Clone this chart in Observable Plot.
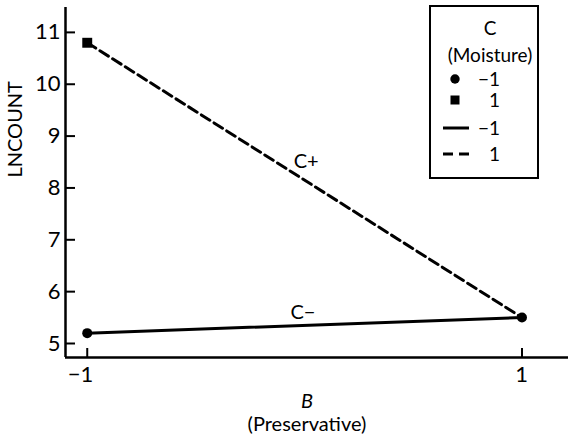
<!DOCTYPE html>
<html><head><meta charset="utf-8">
<script src="https://cdn.jsdelivr.net/npm/d3@7"></script>
<script src="https://cdn.jsdelivr.net/npm/@observablehq/plot@0.6"></script>
<style>
body{margin:0;background:#fff;}
#wrap{position:relative;width:570px;height:442px;font-family:Lato,sans-serif;color:#000;}
#legend{position:absolute;left:429px;top:5px;}
</style></head><body><div id="wrap"></div>
<script>
// Data
const B = [-1, 1];                 // Preservative levels
const cMinus = [5.2, 5.5];         // LNCOUNT at C = -1
const cPlus = [10.8, 5.5];         // LNCOUNT at C = +1
const xTicks = [-1, 1];
const yTicks = [5, 6, 7, 8, 9, 10, 11];
const seriesLabels = [
  {text: "C+", B: -0.05, v: 8.51},
  {text: "C\u2212", B: -0.065, v: 5.6}
];
const legendTitle = ["C", "(Moisture)"];
const legendItems = [
  {kind: "circle", label: "\u22121"},
  {kind: "square", label: "1"},
  {kind: "solid", label: "\u22121"},
  {kind: "dashed", label: "1"}
];

const minusRows = B.map((b, i) => ({B: b, v: cMinus[i], C: -1}));
const plusRows = B.map((b, i) => ({B: b, v: cPlus[i], C: 1}));
// square marker hidden where it coincides with the circle marker
const plusMarkers = plusRows.filter((d, i) => d.v !== cMinus[i]);

const xDomain = [-1.1, 1.214];
const yDomain = [4.73, 11.48];
const fmt = d => d < 0 ? "\u2212" + Math.abs(d) : String(d);

const chart = Plot.plot({
  width: 570, height: 442,
  marginLeft: 65, marginRight: 2, marginTop: 7, marginBottom: 85,
  style: {fontFamily: "Lato, sans-serif", fontSize: "20px", color: "#000", background: "#fff", overflow: "visible"},
  x: {domain: xDomain},
  y: {domain: yDomain},
  marks: [
    Plot.ruleX([xDomain[0]], {strokeWidth: 2.5}),
    Plot.ruleY([yDomain[0]], {strokeWidth: 2.5}),
    Plot.axisY(yTicks, {anchor: "left", tickSize: -10, tickPadding: 15, strokeWidth: 2, label: null, tickFormat: fmt, fontSize: 22}),
    Plot.axisX(xTicks, {anchor: "bottom", tickSize: -9, strokeWidth: 2, label: null, tickFormat: () => ""}),
    Plot.axisX(xTicks, {anchor: "bottom", tickSize: 0, tickPadding: 9, label: null, tickFormat: fmt, fontSize: 22, textAnchor: "end", dx: 6}),
    Plot.line(plusRows, {x: "B", y: "v", strokeWidth: 3, strokeDasharray: "10,5"}),
    Plot.line(minusRows, {x: "B", y: "v", strokeWidth: 3}),
    Plot.dot(plusMarkers, {x: "B", y: "v", symbol: "square", r: 5.6, fill: "#000"}),
    Plot.dot(minusRows, {x: "B", y: "v", r: 5, fill: "#000"}),
    Plot.text(seriesLabels, {x: "B", y: "v", text: "text", textAnchor: "start", fontSize: 20}),
    Plot.text(["B"], {frameAnchor: "bottom", text: d => d, dx: -10, dy: 50, fontStyle: "italic", fontSize: 20}),
    Plot.text(["(Preservative)"], {frameAnchor: "bottom", text: d => d, dx: -10, dy: 73, fontSize: 20}),
    Plot.text(["LNCOUNT"], {frameAnchor: "left", text: d => d, rotate: -90, dx: -50, dy: -5, fontSize: 20})
  ]
});
const wrap = document.getElementById("wrap");
wrap.appendChild(chart);

// Legend (drawn as SVG with real text)
const lw = 110, lh = 174;
const lg = d3.select(wrap).append("svg").attr("id", "legend").attr("width", lw).attr("height", lh)
  .style("font-family", "Lato, sans-serif").style("font-size", "19px");
lg.append("rect").attr("x", 1).attr("y", 1).attr("width", lw - 2).attr("height", lh - 2)
  .attr("fill", "#fff").attr("stroke", "#000").attr("stroke-width", 2);
const titleY = [23, 50];
legendTitle.forEach((t, i) => {
  lg.append("text").attr("x", 61).attr("y", titleY[i]).attr("dy", "0.35em")
    .attr("text-anchor", "middle").text(t);
});
const rowY = [74, 95, 123, 149];
legendItems.forEach((it, i) => {
  const y = rowY[i];
  if (it.kind === "circle") lg.append("circle").attr("cx", 26).attr("cy", y).attr("r", 4.7).attr("fill", "#000");
  if (it.kind === "square") lg.append("rect").attr("x", 21.5).attr("y", y - 4.5).attr("width", 9).attr("height", 9).attr("fill", "#000");
  if (it.kind === "solid") lg.append("line").attr("x1", 14).attr("x2", 40).attr("y1", y).attr("y2", y).attr("stroke", "#000").attr("stroke-width", 3);
  if (it.kind === "dashed") lg.append("line").attr("x1", 14).attr("x2", 40).attr("y1", y).attr("y2", y).attr("stroke", "#000").attr("stroke-width", 3).attr("stroke-dasharray", "10,6");
  lg.append("text").attr("x", 71).attr("y", y).attr("dy", "0.35em").attr("text-anchor", "end").text(it.label);
});
</script>
</body></html>
